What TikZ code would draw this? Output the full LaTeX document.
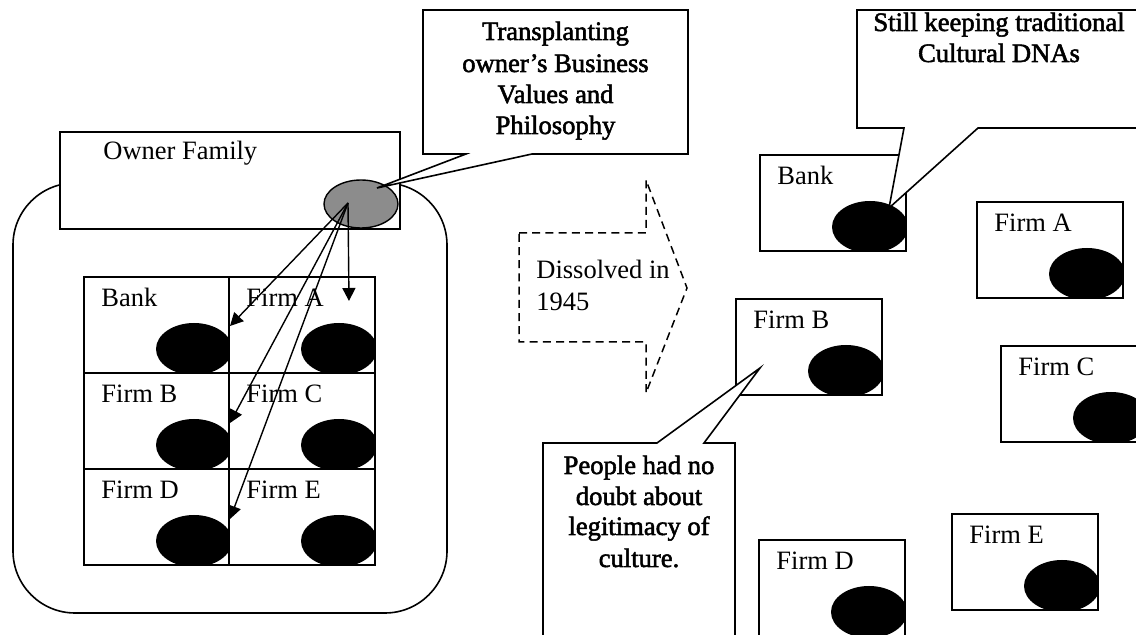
\documentclass[tikz,border=0pt]{standalone}
\usepackage{fontspec}
\setmainfont{Liberation Serif}
\newfontfamily\notefont[FakeBold=2]{Liberation Serif}
\usetikzlibrary{arrows.meta}

\tikzset{
  frame/.style={draw, line width=0.8pt},
  cellbox/.style={draw, fill=white, line width=0.8pt, minimum width=73pt,
    minimum height=48pt, inner sep=0pt, outer sep=0pt},
  lbl/.style={anchor=base west, inner sep=0pt, font=\fontsize{13.25}{15}\selectfont},
  note/.style={anchor=base, inner sep=0pt, font=\notefont\fontsize{13.3}{15.5}\selectfont},
  link/.style={line width=0.7pt, -{Triangle[length=6.5pt,width=6.5pt]}},
  callout/.style={draw, fill=white, line width=0.8pt, line join=miter},
  dashshape/.style={draw, line width=0.75pt, dash pattern=on 4pt off 2.6pt},
}

% a firm: framed box with its black "DNA" blob in the lower right corner
\newcommand{\firmbox}[4]{%
  \node[cellbox, anchor=north west] (#1) at (#3,#4) {};
  \begin{scope}
    \clip (#1.south west) rectangle (#1.north east);
    \fill[black] ([xshift=-18pt,yshift=12pt]#1.south east)
      ellipse [x radius=19pt, y radius=13pt];
  \end{scope}
  \node[lbl] (#1-t) at ([xshift=8.5pt,yshift=-14.75pt]#1.north west) {#2};
}

\begin{document}
\begin{tikzpicture}[x=0.5pt, y=-0.5pt]
\useasboundingbox (0,0) rectangle (1136,635);
\fill[white] (0,0) rectangle (1136,635);
\clip (0,0) rectangle (1136,635);

% ---------- the group before 1945 ----------
\draw[frame, rounded corners=31pt] (13,183) rectangle (447,613);
\node[frame, fill=white, anchor=north west, minimum width=170pt, minimum height=48.5pt,
  inner sep=0pt] (owner) at (59,131) {};
\node[lbl] (owner-t) at (103,160) {Owner Family};
\draw[line width=0.7pt, fill=black!45] (361,204) ellipse [x radius=18.5pt, y radius=12pt];
\coordinate (hub) at (348,203);

\firmbox{gBank}{Bank}{84}{277}
\firmbox{gA}{Firm A}{229}{277}
\firmbox{gB}{Firm B}{84}{373}
\firmbox{gC}{Firm C}{229}{373}
\firmbox{gD}{Firm D}{84}{469}
\firmbox{gE}{Firm E}{229}{469}

\coordinate (toBank) at (230,326);
\coordinate (toB) at (230,423);
\coordinate (toD) at (230,519);
\coordinate (toA) at (349,301);
\draw[link] (hub) -- (toBank);
\draw[link] (hub) -- (toB);
\draw[link] (hub) -- (toD);
\draw[link] (hub) -- (toA);

% callout on the owner family
\coordinate (tip1) at (377,188);
\draw[callout] (423,10) -- (688,10) -- (688,154) -- (532,154) -- (tip1)
  -- (466,154) -- (423,154) -- cycle;
\node[note] (n1a) at (555.5,40) {Transplanting};
\node[note] (n1b) at (555.5,72) {owner’s Business};
\node[note] (n1c) at (555.5,103) {Values and};
\node[note] (n1d) at (555.5,134) {Philosophy};

% ---------- dissolution arrow ----------
\draw[dashshape] (519,233) -- (646,233) -- (646,180) -- (687,288) -- (646,393)
  -- (646,342) -- (519,342) -- cycle;
\node[lbl] (dis1) at (536,279) {Dissolved in};
\node[lbl] (dis2) at (536,311) {1945};

% ---------- the firms after 1945 ----------
\firmbox{rBank}{Bank}{760}{155}
\firmbox{rA}{Firm A}{977}{202}
\firmbox{rB}{Firm B}{736}{299}
\firmbox{rC}{Firm C}{1001}{346}
\firmbox{rD}{Firm D}{759}{540}
\firmbox{rE}{Firm E}{952}{514}

\coordinate (tip2) at (889,208);
\draw[callout] (857,10) -- (1141,10) -- (1141,128) -- (978,128) -- (tip2)
  -- (904,128) -- (857,128) -- cycle;
\node[note] (n2a) at (999,31) {Still keeping traditional};
\node[note] (n2b) at (999,62) {Cultural DNAs};

\coordinate (tip3) at (760,368);
\draw[callout] (543,443) -- (657,443) -- (tip3) -- (704,443) -- (735,443)
  -- (735,660) -- (543,660) -- cycle;
\node[note] (n3a) at (639,474) {People had no};
\node[note] (n3b) at (639,505) {doubt about};
\node[note] (n3c) at (639,535) {legitimacy of};
\node[note] (n3d) at (639,567) {culture.};
\end{tikzpicture}
\end{document}
